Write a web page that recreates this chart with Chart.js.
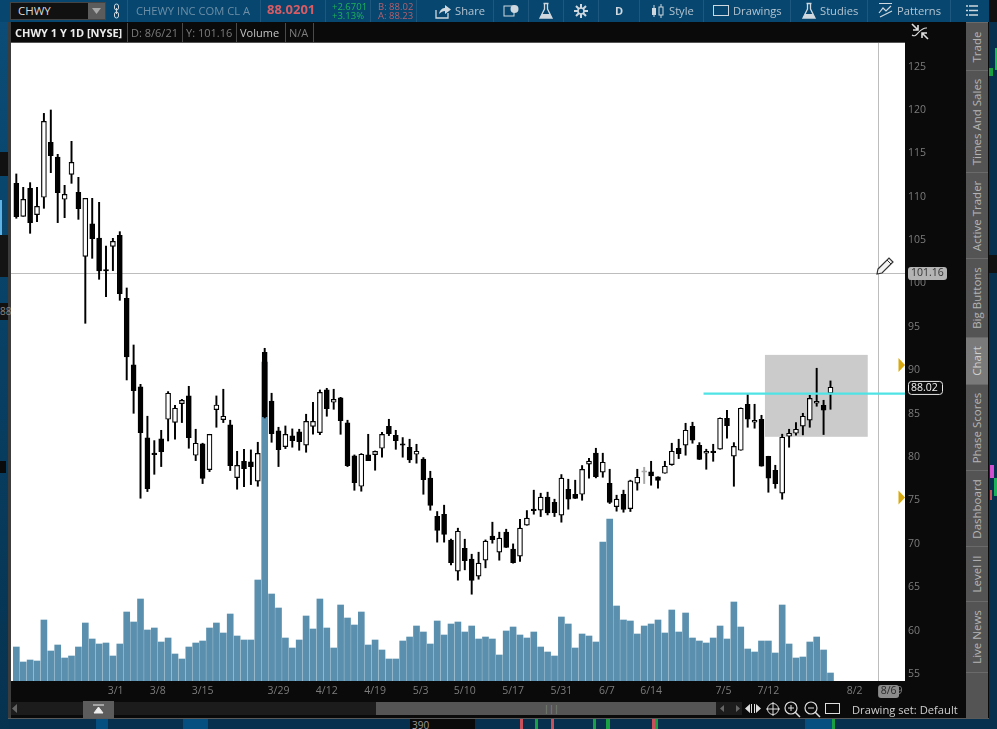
<!DOCTYPE html>
<html>
<head>
<meta charset="utf-8">
<title>CHWY 1 Y 1D</title>
<script src="https://cdn.jsdelivr.net/npm/chart.js@4/dist/chart.umd.js"></script>
<style>
  html, body { margin: 0; padding: 0; background: #07304e; overflow: hidden; }
  body { width: 997px; height: 729px; position: relative; font-family: "Open Sans", sans-serif; }
  .box { position: absolute; }
  .t { position: absolute; white-space: nowrap; line-height: 1; }
  .tab { position: absolute; left: 966px; width: 22px; background: #545454; border-top: 1px solid #6a6a6a; box-sizing: border-box; }
  .tab span { position: absolute; left: 50%; top: 50%; transform: translate(-50%, -50%) rotate(-90deg); white-space: nowrap; font-size: 11.5px; color: #b4b4b4; line-height: 1; }
  .tb { color: #b4c4d0; font-size: 11.2px; top: 5px; }
  .sep { position: absolute; width: 1px; top: 0; height: 22px; background: #1f587f; }
  .cell { position: absolute; top: 23px; height: 19px; border-right: 1px solid #4a4a4a; box-sizing: border-box; }
  svg { position: absolute; }
  canvas { position: absolute; left: 0; top: 0; }
</style>
</head>
<body>
<!-- window frame behind the chart -->
<div class="box" style="left:0;top:0;width:9px;height:729px;background:linear-gradient(#0a4d78,#06324f)"></div>
<div class="box" style="left:0;top:0;width:997px;height:22px;background:#06466f"></div>
<div class="box" style="left:8px;top:22px;width:981px;height:697px;background:#0a0a0a"></div>
<div class="box" style="left:8px;top:22px;width:3px;height:697px;background:#3c3c3c"></div>
<div class="box" style="left:8px;top:718px;width:981px;height:1px;background:#5a5a5a"></div>
<div class="box" style="left:11px;top:42px;width:894px;height:1px;background:#555"></div>

<!-- bits of other windows showing around the edges -->
<div class="box" style="left:0;top:152px;width:8px;height:24px;background:#111"></div>
<div class="box" style="left:0;top:200px;width:2px;height:35px;background:#5fb2e6"></div>
<div class="box" style="left:0;top:235px;width:8px;height:42px;background:#141414"></div>
<div class="box" style="left:0;top:303px;width:8px;height:17px;background:#111"></div>
<div class="t" style="left:0;top:306px;font-size:10px;color:#888">88</div>
<div class="box" style="left:0;top:461px;width:6px;height:12px;background:#0a0a0a"></div>
<div class="box" style="left:989px;top:0;width:8px;height:22px;background:#111"></div>
<div class="box" style="left:995px;top:48px;width:2px;height:22px;background:#19c24a"></div>
<div class="box" style="left:989px;top:68px;width:4px;height:8px;background:#19a043"></div>
<div class="box" style="left:989px;top:255px;width:8px;height:18px;background:#111"></div>
<div class="box" style="left:990px;top:465px;width:4px;height:13px;background:#d04fd0"></div>
<div class="box" style="left:994px;top:478px;width:3px;height:18px;background:#1eb05a"></div>
<div class="box" style="left:990px;top:490px;width:2px;height:10px;background:#c8505a"></div>
<div class="box" style="left:410px;top:719px;width:65px;height:10px;background:#0a0a0a"></div>
<div class="t" style="left:412px;top:720px;font-size:10px;color:#9a9a9a">390</div>
<div class="box" style="left:96px;top:719px;width:12px;height:10px;background:#054f80"></div>
<div class="box" style="left:183px;top:719px;width:25px;height:10px;background:#054f80"></div>
<div class="box" style="left:520px;top:719px;width:3px;height:10px;background:#c8505a"></div>
<div class="box" style="left:535px;top:719px;width:3px;height:10px;background:#19a043"></div>
<div class="box" style="left:551px;top:719px;width:3px;height:10px;background:#c8505a"></div>
<div class="box" style="left:593px;top:719px;width:3px;height:10px;background:#19a043"></div>
<div class="box" style="left:606px;top:719px;width:4px;height:10px;background:#19a043"></div>
<div class="box" style="left:652px;top:719px;width:3px;height:10px;background:#c8505a"></div>
<div class="box" style="left:655px;top:719px;width:3px;height:10px;background:#19a043"></div>
<div class="box" style="left:805px;top:719px;width:30px;height:10px;background:#054f80"></div>
<div class="box" style="left:832px;top:719px;width:3px;height:10px;background:#19a043"></div>

<canvas id="chwy-chart" width="997" height="729"></canvas>

<!-- top toolbar -->
<div class="box" style="left:10px;top:2px;width:96px;height:18px;background:#111;border:1px solid #444;box-sizing:border-box"></div>
<div class="t" style="left:18px;top:5px;font-size:11.5px;color:#d8d8d8">CHWY</div>
<div class="box" style="left:88px;top:3px;width:17px;height:16px;background:#5c5c5c"></div>
<svg style="left:91px;top:8px" width="11" height="6"><path d="M1 0 H10 L5.5 6 Z" fill="#a8a8a8"/></svg>
<svg style="left:112px;top:3px" width="10" height="17"><rect x="2.5" y="1" width="4" height="6" rx="2" fill="none" stroke="#cfd8de"/><rect x="2.5" y="9" width="4" height="6" rx="2" fill="none" stroke="#cfd8de"/><path d="M4.5 5 V11" stroke="#cfd8de"/></svg>
<div class="sep" style="left:127px"></div>
<div class="t" style="left:136px;top:5px;font-size:11.2px;color:#6d8ea6">CHEWY INC COM CL A</div>
<div class="sep" style="left:260px"></div>
<div class="t" style="left:267px;top:3px;font-size:13px;font-weight:700;color:#d95b63">88.0201</div>
<div class="sep" style="left:325px"></div>
<div class="t" style="left:332px;top:2px;font-size:9.5px;color:#1eb35a">+2.6701</div>
<div class="t" style="left:332px;top:11px;font-size:9.5px;color:#1eb35a">+3.13%</div>
<div class="sep" style="left:370px"></div>
<div class="t" style="left:378px;top:2px;font-size:9.5px;color:#b5606c">B: 88.02</div>
<div class="t" style="left:378px;top:11px;font-size:9.5px;color:#b5606c">A: 88.23</div>
<div class="sep" style="left:416px"></div>
<svg style="left:434px;top:3px" width="18" height="16"><path d="M2 7 V15 H14 V10" fill="none" stroke="#cfd8de" stroke-width="1.3"/><path d="M5 11 C6 6 9 5 11 5 V2 L17 6.5 L11 11 V8 C9 8 7 9 5 11 Z" fill="#cfd8de"/></svg>
<div class="t tb" style="left:455px">Share</div>
<div class="sep" style="left:493px"></div>
<svg style="left:503px;top:4px" width="16" height="14"><rect x="1" y="2" width="10" height="10" fill="none" stroke="#cfd8de"/><circle cx="11.5" cy="5" r="4" fill="#cfd8de"/></svg>
<div class="sep" style="left:528px"></div>
<svg style="left:538px;top:2px" width="16" height="18"><path d="M5.5 1.5 H10.5 M6.5 1.5 V7 L2 16 H14 L9.5 7 V1.5" fill="none" stroke="#cfd8de" stroke-width="1.3"/><path d="M4 12 H12 L14 16 H2 Z" fill="#cfd8de"/></svg>
<div class="sep" style="left:563px"></div>
<svg style="left:573px;top:3px" width="16" height="16"><path d="M8 1 V15 M1 8 H15 M3 3 L13 13 M13 3 L3 13" stroke="#cfd8de" stroke-width="2"/><circle cx="8" cy="8" r="3" fill="#06466f" stroke="#cfd8de" stroke-width="1.5"/></svg>
<div class="sep" style="left:598px"></div>
<div class="t" style="left:615px;top:5px;font-size:11px;font-weight:700;color:#cfd8de">D</div>
<div class="sep" style="left:639px"></div>
<svg style="left:651px;top:3px" width="14" height="16"><rect x="1" y="5" width="4" height="7" fill="#cfd8de"/><path d="M3 2 V14 M10 1 V15" stroke="#cfd8de"/><rect x="8" y="4" width="4" height="8" fill="#06466f" stroke="#cfd8de"/></svg>
<div class="t tb" style="left:669px">Style</div>
<div class="sep" style="left:703px"></div>
<svg style="left:713px;top:4px" width="16" height="13"><rect x="0.5" y="1.5" width="15" height="10" fill="none" stroke="#cfd8de"/></svg>
<div class="t tb" style="left:733px">Drawings</div>
<div class="sep" style="left:790px"></div>
<svg style="left:801px;top:2px" width="16" height="18"><path d="M5.5 1.5 H10.5 M6.5 1.5 V7 L2 16 H14 L9.5 7 V1.5" fill="none" stroke="#cfd8de" stroke-width="1.3"/><path d="M4 12 H12 L14 16 H2 Z" fill="#cfd8de"/></svg>
<div class="t tb" style="left:820px">Studies</div>
<div class="sep" style="left:867px"></div>
<svg style="left:878px;top:2px" width="15" height="17"><path d="M1 1.5 H14 M1 11 L5 6 L8 9 L13 4 M2 15 L14 9" fill="none" stroke="#cfd8de" stroke-width="1.2"/></svg>
<div class="t tb" style="left:897px">Patterns</div>
<div class="sep" style="left:950px"></div>
<svg style="left:966px;top:4px" width="12" height="13"><path d="M0 2 H12 M0 6.5 H12 M0 11 H12" stroke="#cfd8de" stroke-width="1.6" stroke-dasharray="2 1 9"/></svg>

<!-- study header row -->
<div class="cell" style="left:11px;width:117px"></div>
<div class="cell" style="left:128px;width:55px"></div>
<div class="cell" style="left:183px;width:54px"></div>
<div class="cell" style="left:237px;width:49px"></div>
<div class="cell" style="left:286px;width:28px"></div>
<div class="t" style="left:15px;top:27px;font-size:11px;font-weight:700;color:#ececec">CHWY 1 Y 1D [NYSE]</div>
<div class="t" style="left:131px;top:27px;font-size:11px;color:#7c7c7c">D: 8/6/21</div>
<div class="t" style="left:186px;top:27px;font-size:11px;color:#7c7c7c">Y: 101.16</div>
<div class="t" style="left:240px;top:27px;font-size:11px;color:#c4c4c4">Volume</div>
<div class="t" style="left:289px;top:27px;font-size:11px;color:#7c7c7c">N/A</div>
<svg style="left:911px;top:23px" width="18" height="17"><path d="M1 1 L7 7 M7 2 V7 H2" fill="none" stroke="#ddd" stroke-width="1.6"/><path d="M17 16 L11 10 M11 15 V10 H16" fill="none" stroke="#ddd" stroke-width="1.6"/><path d="M1 12 C6 16 8 4 16 5" fill="none" stroke="#ddd" stroke-width="1.1"/></svg>

<!-- pencil next to the crosshair -->
<svg style="left:875px;top:255px" width="21" height="21"><path d="M3 14 L14 3 L18 7 L7 18 L2 19 Z" fill="#f4f4f4" stroke="#333" stroke-width="1.2"/><path d="M12 5 L16 9" stroke="#333"/></svg>

<!-- right side tabs -->
<div class="tab" style="top:22px;height:48px"><span>Trade</span></div>
<div class="tab" style="top:70px;height:102px"><span>Times And Sales</span></div>
<div class="tab" style="top:172px;height:86px"><span>Active Trader</span></div>
<div class="tab" style="top:258px;height:79px"><span>Big Buttons</span></div>
<div class="tab" style="top:337px;height:47px;background:#7a7a7a"><span style="color:#cfcfcf">Chart</span></div>
<div class="tab" style="top:384px;height:86px"><span>Phase Scores</span></div>
<div class="tab" style="top:470px;height:76px"><span>Dashboard</span></div>
<div class="tab" style="top:546px;height:55px"><span>Level II</span></div>
<div class="tab" style="top:601px;height:71px"><span>Live News</span></div>
<div class="tab" style="top:672px;height:46px"></div>

<!-- bottom scroll bar -->
<div class="box" style="left:11px;top:702px;width:72px;height:13px;background:#1c1c1c"></div>
<svg style="left:12px;top:704px" width="6" height="9"><path d="M5 0 V9 L0 4.5 Z" fill="#666"/></svg>
<div class="box" style="left:83px;top:701px;width:31px;height:17px;background:#5c5c5c"></div>
<svg style="left:93px;top:704px" width="12" height="11"><path d="M0 1 H11 M5.5 3 L10 9 H1 Z" stroke="#eee" fill="#eee"/></svg>
<div class="box" style="left:114px;top:702px;width:262px;height:13px;background:#1c1c1c"></div>
<div class="box" style="left:376px;top:702px;width:340px;height:13px;background:#555"></div>
<div class="t" style="left:544px;top:704px;font-size:9px;color:#888">|||</div>
<div class="box" style="left:716px;top:702px;width:26px;height:13px;background:#1c1c1c"></div>
<svg style="left:720px;top:704px" width="20" height="9"><path d="M4 1 V8 L0 4.5 Z M16 1 V8 L20 4.5 Z" fill="#666"/></svg>
<svg style="left:745px;top:702px" width="16" height="13"><path d="M5 2 V11 L0 6.5 Z M11 2 V11 L16 6.5 Z" fill="#ddd"/><path d="M6.5 2 V11 M9.5 2 V11" stroke="#ddd"/></svg>
<svg style="left:766px;top:702px" width="14" height="14"><circle cx="7" cy="7" r="5.5" fill="none" stroke="#ddd"/><path d="M7 0 V14 M0 7 H14" stroke="#ddd"/></svg>
<svg style="left:784px;top:701px" width="17" height="17"><circle cx="7" cy="7" r="6" fill="none" stroke="#ddd" stroke-width="1.2"/><path d="M11 11 L16 16" stroke="#ddd" stroke-width="1.5"/><path d="M4 7 H10 M7 4 V10" stroke="#ddd"/></svg>
<svg style="left:804px;top:701px" width="17" height="17"><circle cx="7" cy="7" r="6" fill="none" stroke="#ddd" stroke-width="1.2"/><path d="M11 11 L16 16" stroke="#ddd" stroke-width="1.5"/><path d="M4 7 H10" stroke="#ddd"/></svg>
<svg style="left:825px;top:703px" width="15" height="12"><rect x="0.5" y="0.5" width="14" height="10" fill="none" stroke="#ddd"/></svg>
<div class="t" style="left:852px;top:704px;font-size:11.2px;color:#cfcfcf">Drawing set: Default</div>

<script>
// daily candles, oldest first, one entry per bar
const opens = [111.54,107.74,110.96,107.93,109.93,116.26,114.57,109.70,112.58,110.50,103.13,106.86,105.24,101.56,104.28,105.55,98.29,90.61,88.08,82.20,80.43,82.09,84.35,84.00,86.16,87.04,80.20,81.51,78.55,85.46,84.31,83.70,77.63,79.51,79.44,77.21,92.07,86.46,83.01,81.20,82.43,82.89,81.36,83.54,82.81,87.73,86.31,86.81,83.93,80.13,76.63,80.24,80.28,81.01,83.54,82.51,81.51,81.13,80.32,79.75,77.56,73.18,73.41,70.42,66.84,69.49,68.23,66.27,68.11,70.88,69.03,71.34,69.38,68.57,72.14,73.99,73.87,75.37,74.79,73.30,76.29,75.71,75.71,79.17,80.44,78.25,76.98,74.29,75.71,74.06,76.98,78.25,78.29,77.71,78.13,79.13,81.01,81.36,83.55,81.36,80.44,80.63,80.90,84.47,80.09,80.78,86.08,84.01,84.35,80.09,78.48,75.83,82.39,82.74,83.55,84.24,86.20,85.97,87.35];
const highs = [112.62,111.08,111.62,111.08,119.60,119.99,114.88,111.31,116.38,112.23,109.81,109.81,109.35,104.32,105.20,105.97,99.48,92.91,88.38,84.70,81.89,83.08,87.54,85.96,86.65,88.15,83.20,81.59,82.62,87.04,87.81,84.24,80.66,80.89,80.82,81.70,92.53,87.35,83.43,83.58,83.24,83.20,84.93,86.31,87.73,87.92,87.81,86.88,84.24,80.24,80.40,82.62,80.70,82.85,84.35,83.08,82.24,82.05,81.47,79.94,78.36,73.72,74.45,70.53,71.80,70.53,68.80,69.03,70.45,72.49,71.34,71.68,69.99,72.83,73.83,76.18,75.83,75.95,75.14,77.98,77.44,77.33,79.02,79.86,81.01,80.44,78.59,75.60,76.18,77.33,78.59,78.82,79.51,77.71,79.51,81.59,82.05,83.89,84.01,81.66,80.90,81.47,84.51,85.39,81.66,85.66,87.20,86.08,84.81,80.09,79.05,82.63,83.20,83.97,85.04,87.12,90.23,86.54,88.77];
const lows = [107.51,107.74,105.78,107.12,108.66,112.77,107.01,107.58,111.54,107.39,95.41,102.90,100.48,98.48,101.48,98.06,88.88,85.04,75.25,76.02,78.01,78.90,81.85,82.05,83.97,81.01,79.59,76.94,78.32,83.43,83.97,78.44,76.29,76.59,76.82,76.63,84.50,81.70,78.90,80.97,81.13,80.78,80.55,82.62,82.58,84.70,85.50,82.62,78.90,76.17,76.06,79.59,78.48,79.97,82.47,80.89,79.98,79.36,79.29,75.71,73.87,70.19,70.19,67.57,65.81,67.00,64.19,65.92,67.23,70.07,68.11,69.57,67.77,67.96,72.14,73.41,73.14,73.33,73.14,72.49,73.99,75.22,75.02,77.56,77.60,77.67,74.64,73.76,73.64,73.72,76.18,76.94,76.75,76.40,78.13,79.05,79.82,80.21,81.59,79.71,78.59,79.51,80.90,82.16,76.63,80.78,83.43,83.32,78.94,75.94,76.40,75.14,81.13,82.51,82.55,83.43,85.85,82.59,85.50];
const closes = [107.70,109.70,107.01,108.89,118.68,114.73,110.46,110.27,113.96,108.62,109.81,105.17,101.44,101.44,104.86,98.83,91.53,87.65,82.81,76.36,80.28,80.63,87.35,85.62,86.54,82.24,81.59,77.52,82.62,86.00,84.70,79.01,79.05,78.67,78.90,80.43,84.62,82.70,80.86,82.62,81.89,81.78,84.12,84.12,87.46,85.58,86.65,84.20,79.01,77.05,80.32,79.59,80.66,82.62,82.70,81.89,81.36,79.67,80.67,77.40,74.41,71.53,71.07,67.84,71.45,68.07,65.77,67.77,70.30,70.49,70.65,69.57,67.84,71.80,72.95,73.83,75.37,73.56,73.60,77.56,75.14,75.22,78.59,79.52,77.75,79.40,74.76,75.14,73.95,77.25,77.67,78.25,77.82,77.29,78.94,80.67,80.40,83.09,81.93,79.71,80.67,80.51,84.47,83.62,81.24,85.62,84.35,84.24,78.94,77.56,76.94,82.28,82.74,83.20,84.70,86.77,86.43,85.39,88.04];
// shares traded, thousands
const volumes = [1360,760,840,800,2440,1200,1440,920,1000,1360,2320,1680,1480,1520,1000,1480,2760,2360,3280,2040,2120,1560,1720,1080,880,1360,1520,1600,2120,2320,1920,2680,1800,1640,1640,4040,12760,3480,2920,1720,1320,1640,2600,2080,3280,2120,1320,3040,2520,2240,2760,1440,1640,1240,880,880,1600,1760,2200,1960,1480,2400,1840,2280,2360,1960,2200,1680,1760,1680,1040,2000,2160,1840,1720,1960,1360,1160,1000,2560,2280,1320,1880,1800,1560,5560,6480,3000,2440,2400,1880,2200,2280,2440,1920,2840,1960,2720,1720,1600,1520,1720,2200,1680,3160,2160,1280,1160,1600,1600,1120,3040,1480,920,960,1560,1760,1240,320];

const priceTicks = [55,60,65,70,75,80,85,90,95,100,105,110,115,120,125];
const dateLabels = ['3/1','3/8','3/15','3/29','4/12','4/19','5/3','5/10','5/17','5/31','6/7','6/14','7/5','7/12','8/2','8/9'];
const dateBars = [14.4,20.5,27,38,45,52,58.6,65,72,79,85.6,92,102.5,109,121.5,127.3];

// drawings on the chart
const crossPrice = 101.16;
const crossBar = 124.9;
const crossDate = '8/6';
const lastPrice = 88.02;
const cyanLine = { fromBar: 99.6, price: 87.3 };
const grayBox = { fromBar: 108.5, toBar: 123.4, top: 91.77, bottom: 82.33 };
const markerPrices = [90.6, 75.35];

const PRICE_MIN = 54.19, PRICE_MAX = 127.71;
const BAR_MIN = -0.77, BAR_MAX = 128.8;
const VOLUME_MAX = 25520;

function roundRect(ctx, x, y, w, h, r) {
    ctx.beginPath();
    ctx.roundRect(x, y, w, h, r);
}

const chartExtras = {
    id: 'chartExtras',
    beforeDatasetsDraw(chart) {
        const { ctx, chartArea: a, scales } = chart;
        ctx.save();
        ctx.fillStyle = '#ffffff';
        ctx.fillRect(a.left, a.top, a.width, a.height);
        const bx = scales.x.getPixelForValue(grayBox.fromBar);
        const by = scales.y.getPixelForValue(grayBox.top);
        ctx.fillStyle = '#cbcbcb';
        ctx.fillRect(bx, by, scales.x.getPixelForValue(grayBox.toBar) - bx, scales.y.getPixelForValue(grayBox.bottom) - by);
        // crosshair
        const cx = Math.round(scales.x.getPixelForValue(crossBar)) + 0.5;
        const cy = Math.round(scales.y.getPixelForValue(crossPrice)) + 0.5;
        ctx.strokeStyle = '#bdbdbd';
        ctx.lineWidth = 1;
        ctx.beginPath();
        ctx.moveTo(cx, a.top); ctx.lineTo(cx, a.bottom);
        ctx.moveTo(a.left, cy); ctx.lineTo(a.right, cy);
        ctx.stroke();
        ctx.restore();
    },
    afterDatasetsDraw(chart) {
        const { ctx, chartArea: a, scales } = chart;
        ctx.save();
        const ly = scales.y.getPixelForValue(cyanLine.price);
        ctx.strokeStyle = '#4fe3e6';
        ctx.lineWidth = 2.4;
        ctx.beginPath();
        ctx.moveTo(scales.x.getPixelForValue(cyanLine.fromBar), ly);
        ctx.lineTo(a.right, ly);
        ctx.stroke();

        ctx.fillStyle = '#d8a90f';
        markerPrices.forEach(p => {
            const y = scales.y.getPixelForValue(p);
            ctx.beginPath();
            ctx.moveTo(a.right - 6.5, y - 7);
            ctx.lineTo(a.right, y);
            ctx.lineTo(a.right - 6.5, y + 7);
            ctx.closePath();
            ctx.fill();
        });

        ctx.font = '10.5px "Open Sans"';
        ctx.textBaseline = 'middle';
        ctx.textAlign = 'left';
        // crosshair price badge
        const cy = scales.y.getPixelForValue(crossPrice);
        ctx.fillStyle = '#b4b4b4';
        roundRect(ctx, a.right + 3, cy - 6.5, 39, 13, 3);
        ctx.fill();
        ctx.fillStyle = '#333';
        ctx.fillText(crossPrice.toFixed(2), a.right + 6, cy);
        // last price badge
        const py = scales.y.getPixelForValue(lastPrice);
        ctx.fillStyle = '#0a0a0a';
        roundRect(ctx, a.right + 3.5, py - 6, 34, 13, 3);
        ctx.fill();
        ctx.strokeStyle = '#e8e8e8';
        ctx.lineWidth = 1;
        ctx.stroke();
        ctx.fillStyle = '#f2f2f2';
        ctx.fillText(lastPrice.toFixed(2), a.right + 6, py + 0.5);
        // crosshair date badge
        const cx = scales.x.getPixelForValue(crossBar);
        ctx.fillStyle = '#8c8c8c';
        roundRect(ctx, cx, a.bottom + 4, 21, 13, 3);
        ctx.fill();
        ctx.fillStyle = '#2a2a2a';
        ctx.textAlign = 'center';
        ctx.fillText(crossDate, cx + 10.5, a.bottom + 10.5);
        ctx.restore();
    }
};

const barIndex = opens.map((_, i) => i);
const bodyColor = i => closes[i] > opens[i] ? '#ffffff' : (closes[i] === opens[i] ? '#a8a8a8' : '#000000');
const lineColor = i => closes[i] === opens[i] ? '#a8a8a8' : '#000000';

new Chart(document.getElementById('chwy-chart').getContext('2d'), {
    type: 'bar',
    data: {
        datasets: [{
            label: 'Volume',
            data: barIndex.map(i => ({ x: i, y: volumes[i] })),
            yAxisID: 'yVol',
            backgroundColor: '#5a8fae',
            barThickness: 6,
            order: 3
        }, {
            label: 'High-Low',
            data: barIndex.map(i => ({ x: i, y: [lows[i], highs[i]] })),
            yAxisID: 'y',
            backgroundColor: barIndex.map(lineColor),
            barThickness: 1.3,
            order: 2
        }, {
            label: 'Open-Close',
            data: barIndex.map(i => ({ x: i, y: [opens[i], closes[i]] })),
            yAxisID: 'y',
            backgroundColor: barIndex.map(bodyColor),
            borderColor: barIndex.map(lineColor),
            borderWidth: 1.2,
            borderSkipped: false,
            barThickness: 5,
            minBarLength: 1.5,
            order: 1
        }]
    },
    options: {
        responsive: false,
        animation: false,
        devicePixelRatio: 1,
        grouped: false,
        layout: { padding: { left: 11, top: 43, right: 32, bottom: 0 } },
        plugins: { legend: { display: false }, tooltip: { enabled: false } },
        scales: {
            x: {
                type: 'linear',
                offset: false,
                min: BAR_MIN,
                max: BAR_MAX,
                grid: { display: false, drawTicks: false, tickLength: 0 },
                border: { display: false },
                afterBuildTicks: s => { s.ticks = dateBars.map(v => ({ value: v })); },
                afterFit: s => { s.height = 48; },
                ticks: {
                    autoSkip: false,
                    maxRotation: 0,
                    padding: 4,
                    color: '#7c7c7c',
                    font: { family: 'Open Sans', size: 10.5 },
                    callback: v => dateLabels[dateBars.indexOf(v)]
                }
            },
            y: {
                position: 'right',
                min: PRICE_MIN,
                max: PRICE_MAX,
                grid: { display: false, drawTicks: false, tickLength: 0 },
                border: { display: false },
                afterBuildTicks: s => { s.ticks = priceTicks.map(v => ({ value: v })); },
                afterFit: s => { s.width = 60; },
                ticks: {
                    autoSkip: false,
                    padding: 3,
                    color: '#7c7c7c',
                    font: { family: 'Open Sans', size: 10.5 }
                }
            },
            yVol: {
                display: false,
                min: 0,
                max: VOLUME_MAX
            }
        }
    },
    plugins: [chartExtras]
});
</script>
</body>
</html>
